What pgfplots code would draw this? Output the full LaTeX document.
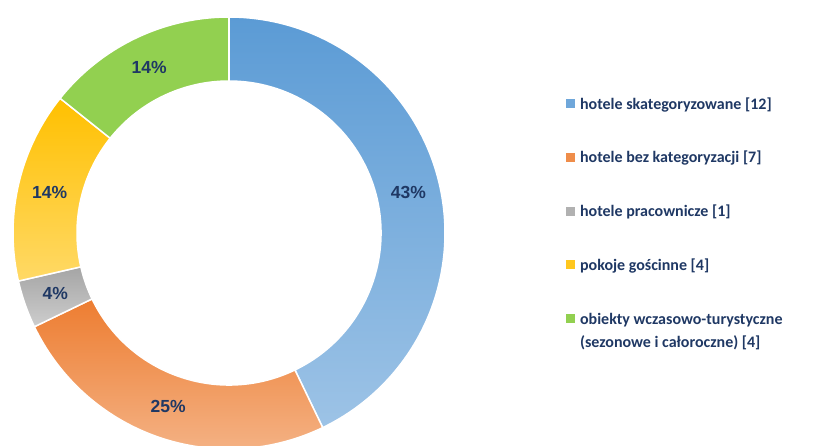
\documentclass[border=0pt]{standalone}
\usepackage{pgfplots}
\pgfplotsset{compat=1.18}
\usepackage{pgfplotstable}
\usepackage{fontspec}
\setmainfont{Carlito}
\newfontfamily\lab{Liberation Sans}
\definecolor{navy}{HTML}{1F3864}
\definecolor{bTop}{HTML}{5B9BD5}\definecolor{bBot}{HTML}{9DC3E6}
\definecolor{oTop}{HTML}{ED7D31}\definecolor{oBot}{HTML}{F4B183}
\definecolor{gTop}{HTML}{A5A5A5}\definecolor{gBot}{HTML}{CDCDCD}
\definecolor{yTop}{HTML}{FFC000}\definecolor{yBot}{HTML}{FFD966}
\definecolor{grTop}{HTML}{92D050}\definecolor{grBot}{HTML}{92D050}

\pgfplotstableread{
label value
A 12
B 7
C 1
D 4
E 4
}\datatable
\pgfplotstablegetelem{0}{value}\of\datatable \edef\vA{\pgfplotsretval}
\pgfplotstablegetelem{1}{value}\of\datatable \edef\vB{\pgfplotsretval}
\pgfplotstablegetelem{2}{value}\of\datatable \edef\vC{\pgfplotsretval}
\pgfplotstablegetelem{3}{value}\of\datatable \edef\vD{\pgfplotsretval}
\pgfplotstablegetelem{4}{value}\of\datatable \edef\vE{\pgfplotsretval}
\pgfmathsetmacro\tot{\vA+\vB+\vC+\vD+\vE}
\pgfmathsetmacro\aA{0}
\pgfmathsetmacro\aB{\aA+360*\vA/\tot}
\pgfmathsetmacro\aC{\aB+360*\vB/\tot}
\pgfmathsetmacro\aD{\aC+360*\vC/\tot}
\pgfmathsetmacro\aE{\aD+360*\vD/\tot}
\pgfmathsetmacro\aF{\aE+360*\vE/\tot}
\pgfmathsetmacro\mA{(\aA+\aB)/2}
\pgfmathsetmacro\mB{(\aB+\aC)/2}
\pgfmathsetmacro\mC{(\aC+\aD)/2}
\pgfmathsetmacro\mD{(\aD+\aE)/2}
\pgfmathsetmacro\mE{(\aE+\aF)/2}
\pgfmathtruncatemacro\pA{round(100*\vA/\tot)}
\pgfmathtruncatemacro\pB{round(100*\vB/\tot)}
\pgfmathtruncatemacro\pC{round(100*\vC/\tot)}
\pgfmathtruncatemacro\pD{round(100*\vD/\tot)}
\pgfmathtruncatemacro\pE{round(100*\vE/\tot)}

% ring segment: #1 start angle, #2 end angle (clockwise from top), #3 top colour, #4 bottom colour
\newcommand\ring[4]{%
\addplot[forget plot, draw=white, line width=1.5pt, top color=#3, bottom color=#4,
  domain=#1:#2, samples=120] ({sin(x)},{cos(x)})
  -- ++({270-#2}:64pt) arc[start angle={90-#2}, end angle={90-#1}, radius=152pt] -- cycle;}
\newcommand\pct[2]{%
\node[font=\lab\bfseries\fontsize{17.5}{20}\selectfont, text=navy,
  shift={({90-#1}:184pt)}] at (axis cs:0,0) {#2\%};}

\begin{document}
\begin{tikzpicture}[x=1pt,y=1pt]
\path[use as bounding box] (0,0) rectangle (818,445);
\clip (0,0) rectangle (818,445);
\begin{axis}[
  at={(229pt,212pt)}, anchor=center,
  width=432pt, height=432pt, scale only axis,
  xmin=-1, xmax=1, ymin=-1, ymax=1,
  hide axis, clip=false,
  legend cell align=left,
  legend style={draw=none, fill=none, inner sep=0pt,
    at={(1.2800,0.8229)}, anchor=north west,
    row sep=35pt, column sep=3.5pt,
    font=\bfseries\fontsize{16}{19}\selectfont,
    nodes={inner sep=2pt, text=navy}},
]
\ring{\aA}{\aB}{bTop}{bBot}
\ring{\aB}{\aC}{oTop}{oBot}
\ring{\aC}{\aD}{gTop}{gBot}
\ring{\aD}{\aE}{yTop}{yBot}
\ring{\aE}{\aF}{grTop}{grBot}
\pct{\mA}{\pA}
\pct{\mB}{\pB}
\pct{\mC}{\pC}
\pct{\mD}{\pD}
\pct{\mE}{\pE}

\addlegendimage{legend image code/.code={\fill[bTop!70!bBot] (0pt,-4pt) rectangle (8pt,4pt);}}
\addlegendentry{\strut hotele skategoryzowane [12]}
\addlegendimage{legend image code/.code={\fill[oTop!70!oBot] (0pt,-4pt) rectangle (8pt,4pt);}}
\addlegendentry{\strut hotele bez kategoryzacji [7]}
\addlegendimage{legend image code/.code={\fill[gTop!70!gBot] (0pt,-4pt) rectangle (8pt,4pt);}}
\addlegendentry{\strut hotele pracownicze [1]}
\addlegendimage{legend image code/.code={\fill[yTop!70!yBot] (0pt,-4pt) rectangle (8pt,4pt);}}
\addlegendentry{\strut pokoje gościnne [4]}
\addlegendimage{legend image code/.code={\fill[grTop] (0pt,-4pt) rectangle (8pt,4pt);}}
\addlegendentry{\strut\rlap{\smash{\raisebox{-23pt}{(sezonowe i całoroczne) [4]}}}obiekty wczasowo-turystyczne}
\end{axis}
\end{tikzpicture}
\end{document}
